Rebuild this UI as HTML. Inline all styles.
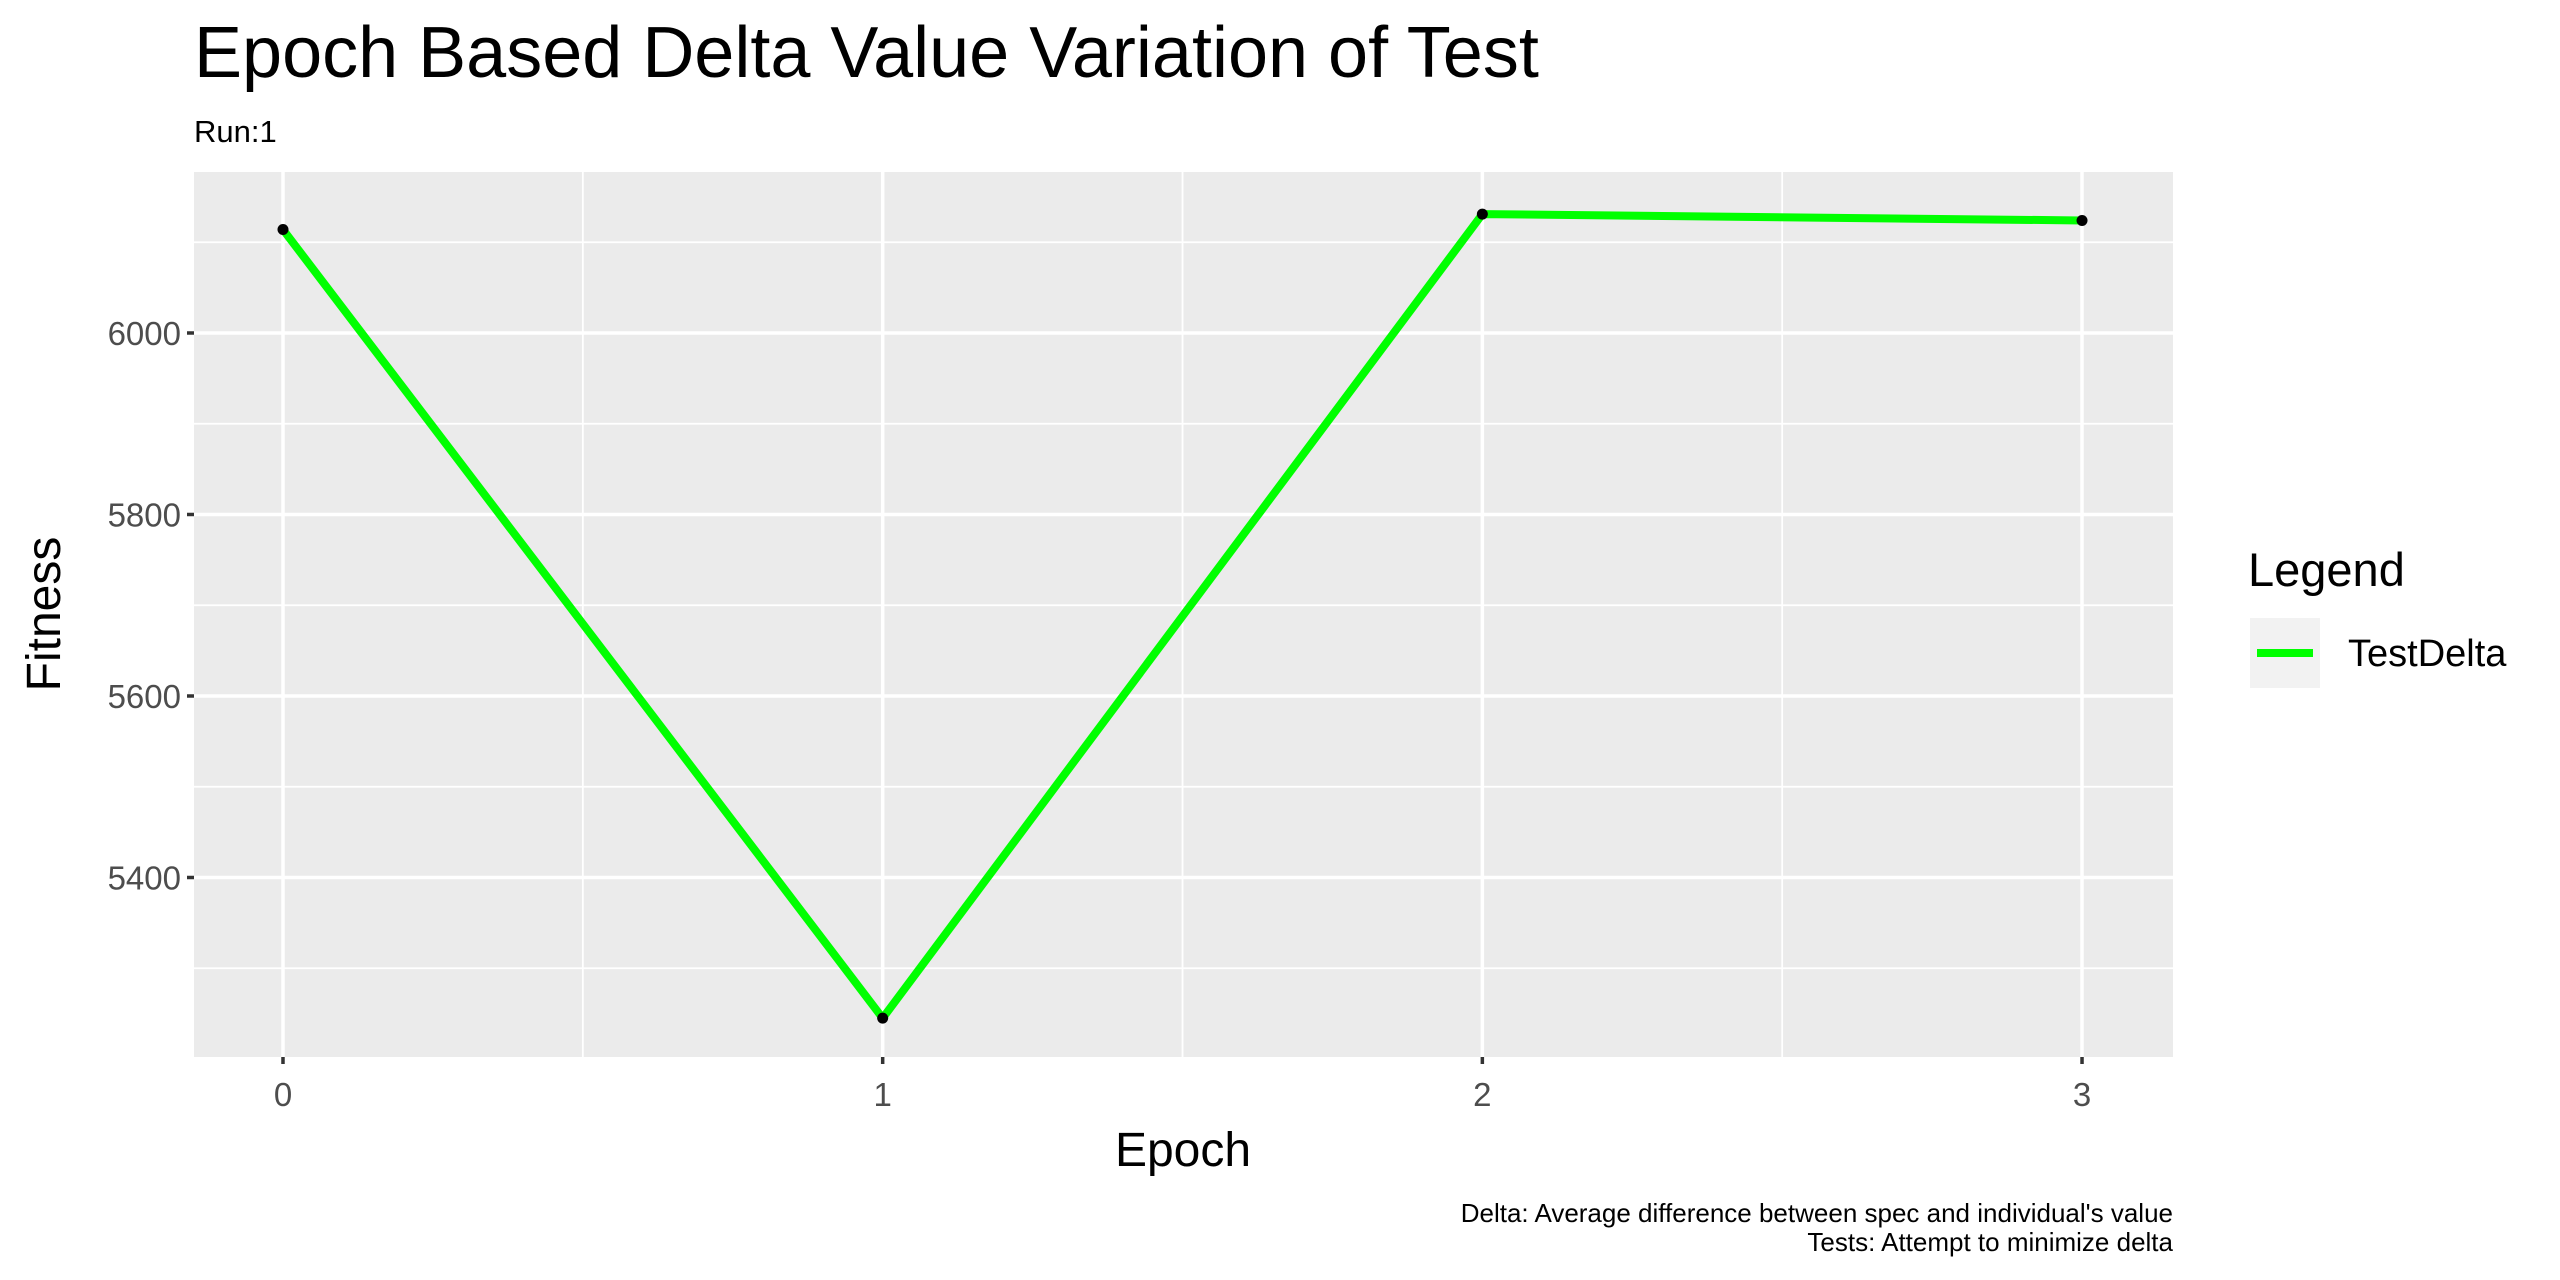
<!DOCTYPE html>
<html><head><meta charset="utf-8"><style>
body{margin:0;background:#fff;}
svg{display:block;font-family:"Liberation Sans",sans-serif;}
</style></head><body>
<svg id="chart" width="2560" height="1280" viewBox="0 0 2560 1280">
<rect width="2560" height="1280" fill="#fff"/>
<text x="194" y="77" font-size="72" fill="#000">Epoch Based Delta Value Variation of Test</text>
<text x="194" y="142" font-size="31" fill="#000">Run:1</text>
<rect x="194" y="172" width="1979" height="885" fill="#ebebeb"/>
<g id="grid"></g>
<g id="series"></g>
<g id="axes"></g>
<text x="1183" y="1166" font-size="48" text-anchor="middle" fill="#000">Epoch</text>
<text transform="translate(60,614) rotate(-90)" font-size="48" text-anchor="middle" fill="#000">Fitness</text>
<g>
<text x="2248" y="586" font-size="47" fill="#000">Legend</text>
<rect x="2250" y="618" width="70" height="70" fill="#f2f2f2"/>
<line x1="2257" y1="653" x2="2313" y2="653" stroke="#00ff00" stroke-width="8"/>
<text x="2348" y="666" font-size="38" fill="#000">TestDelta</text>
</g>
<text x="2173" y="1222" font-size="26" text-anchor="end" fill="#000">Delta: Average difference between spec and individual's value</text>
<text x="2173" y="1251" font-size="26" text-anchor="end" fill="#000">Tests: Attempt to minimize delta</text>
</svg>
<script>
const epochs=[0,1,2,3];
const fitness=[6114,5245,6131,6124];
const yTicks=[5400,5600,5800,6000];
const yMinor=[5300,5500,5700,5900,6100];
const xMinor=[0.5,1.5,2.5];
const NS="http://www.w3.org/2000/svg";
const X0=194,X1=2173,Y0=172,Y1=1057;
const xMin=-0.1484,xMax=3.1517,yMin=5202.2,yMax=6177.4;
function sx(v){return X0+(v-xMin)/(xMax-xMin)*(X1-X0);}
function sy(v){return Y1-(v-yMin)/(yMax-yMin)*(Y1-Y0);}
function mk(tag,attrs,parent){const e=document.createElementNS(NS,tag);for(const k in attrs)e.setAttribute(k,attrs[k]);parent.appendChild(e);return e;}
const grid=document.getElementById('grid'),ser=document.getElementById('series'),ax=document.getElementById('axes');
yMinor.forEach(v=>{const l=mk('line',{x1:X0,x2:X1,y1:sy(v),y2:sy(v),stroke:'#fff','stroke-width':1.8},grid);

});
xMinor.forEach(v=>{const l=mk('line',{x1:sx(v),x2:sx(v),y1:Y0,y2:Y1,stroke:'#fff','stroke-width':1.8},grid);

});
yTicks.forEach(v=>{const l=mk('line',{x1:X0,x2:X1,y1:sy(v),y2:sy(v),stroke:'#fff','stroke-width':3.5},grid);


const t=mk('line',{x1:X0-7,x2:X0,y1:sy(v),y2:sy(v),stroke:'#333','stroke-width':3.5},ax);


const tx=mk('text',{x:X0-13,y:sy(v)+12,'font-size':33,'text-anchor':'end',fill:'#4d4d4d'},ax);tx.textContent=v;

});
epochs.forEach(v=>{const l=mk('line',{x1:sx(v),x2:sx(v),y1:Y0,y2:Y1,stroke:'#fff','stroke-width':3.5},grid);


const t=mk('line',{x1:sx(v),x2:sx(v),y1:Y1,y2:Y1+7,stroke:'#333','stroke-width':3.5},ax);


const tx=mk('text',{x:sx(v),y:Y1+49,'font-size':33,'text-anchor':'middle',fill:'#4d4d4d'},ax);tx.textContent=v;

});
const pts=epochs.map((e,i)=>sx(e)+','+sy(fitness[i])).join(' ');
const pl=mk('polyline',{points:pts,fill:'none',stroke:'#00ff00','stroke-width':8,'stroke-linejoin':'round'},ser);


epochs.forEach((e,i)=>{const c=mk('circle',{cx:sx(e),cy:sy(fitness[i]),r:5.5,fill:'#000'},ser);

});
</script>
</body></html>
